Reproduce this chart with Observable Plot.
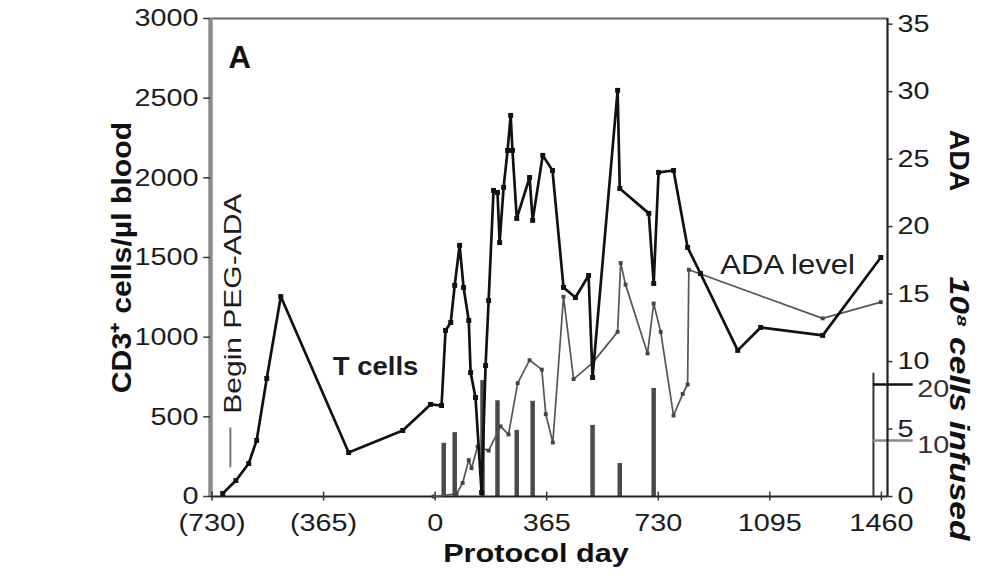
<!DOCTYPE html>
<html><head><meta charset="utf-8">
<script src="https://cdn.jsdelivr.net/npm/d3@7"></script>
<script src="https://cdn.jsdelivr.net/npm/@observablehq/plot@0.6"></script>
<style>body{margin:0;background:#fff}</style>
</head><body><div id="chart"></div>
<script>
// T cells (CD3+ cells/µl blood)
const tDays = [-695,-652,-610,-584,-551,-505,-283,-106,-15,21,34,51,64,80,93,110,116,132,152,165,175,191,204,211,224,237,247,253,267,309,319,352,384,420,459,502,515,597,604,699,715,731,780,826,868,990,1065,1268,1458];
const tCells = [19,100,207,352,741,1255,276,414,578,571,1042,1092,1325,1576,1312,1105,778,621,25,822,1230,1921,1908,1594,1940,2172,2392,2172,1745,2002,1733,2141,2046,1312,1249,1387,747,2549,1933,1777,1337,2034,2046,1563,1400,917,1061,1011,1500];
// ADA level (right axis)
const adaDays = [-5,70,90,110,119,139,175,214,240,270,309,349,362,385,420,453,515,597,607,623,695,715,738,780,810,826,830,1268,1458];
const adaLevel = [0,0.2,1.0,2.7,2.1,3.7,3.4,5.2,4.6,8.4,10.1,9.4,6.1,4.0,14.8,8.7,9.9,12.2,17.3,15.7,10.6,14.3,12.2,6.0,7.6,8.3,16.8,13.2,14.4];
// 10^8 cells infused (bars)
const barDays = [28,64,155,204,267,319,515,604,715];
const barCells = [9.5,11.4,20.7,17.1,11.8,17.0,12.7,5.9,19.3];
// axes
const xDomain = [-735,1480];
const yDomain = [0,3000];
const leftTicks = [0,500,1000,1500,2000,2500,3000];
const xTicks = [-730,-365,0,365,730,1095,1460];
const xTickLabels = ["(730)","(365)","0","365","730","1095","1460"];
const adaTicks = [0,5,10,15,20,25,30,35];
const cellTicks = [10,20];
const cellAxisTop = 22;
const cellAxisDay = 1434;
const adaToY = 84.7;   // 1 ADA unit in left-axis units
const cellToY = 35.15; // 1 unit of 10^8 cells in left-axis units
// annotations
const notes = [
  {label:"T cells", day:-195, value:810, rotate:0, weight:"bold", size:25},
  {label:"ADA level", day:1153, value:1450, rotate:0, weight:"normal", size:27},
  {label:"Begin PEG-ADA", day:-662, value:1210, rotate:-90, weight:"normal", size:24}
];
const pointer = [{day:-670, y1:180, y2:430}];

const tcells = tDays.map((d,i)=>({day:d, v:tCells[i]}));
const ada = adaDays.map((d,i)=>({day:d, v:adaLevel[i]*adaToY}));
const bars = barDays.map((d,i)=>({day:d, v:barCells[i]*cellToY}));

const ink = "#1c1c1c";
const fontFamily = "'Liberation Sans', Arial, Helvetica, sans-serif";

const svg = Plot.plot({
  width: 984, height: 577,
  marginLeft: 210, marginRight: 97, marginTop: 18, marginBottom: 81,
  x: {domain: xDomain, axis: null},
  y: {domain: yDomain, axis: null},
  style: {fontFamily, background: "#fff", color: ink},
  marks: [
    // bars of cells infused
    Plot.ruleX(bars, {x: "day", y1: 0, y2: "v", stroke: "#4a4a4a", strokeWidth: 4.5}),
    // third axis (10^8 cells infused)
    Plot.ruleX([cellAxisDay], {y1: 0, y2: cellAxisTop*cellToY, stroke: "#333", strokeWidth: 2}),
    Plot.ruleY(cellTicks.filter(d=>d===20), {y: d=>d*cellToY, x1: cellAxisDay, x2: cellAxisDay+130, stroke: "#111", strokeWidth: 2.5}),
    Plot.ruleY(cellTicks.filter(d=>d===10), {y: d=>d*cellToY, x1: cellAxisDay, x2: cellAxisDay+130, stroke: "#8a8a8a", strokeWidth: 2.5}),
    // frame
    Plot.ruleY([yDomain[1]], {stroke: "#666", strokeWidth: 2}),
    Plot.ruleY([yDomain[0]], {stroke: "#222", strokeWidth: 2}),
    Plot.ruleX([xDomain[0]], {stroke: "#8c8c8c", strokeWidth: 4.5}),
    Plot.ruleX([xDomain[1]], {stroke: "#222", strokeWidth: 2.2}),
    // left ticks
    Plot.ruleY(leftTicks, {x1: xDomain[0]-22, x2: xDomain[0], stroke: "#333", strokeWidth: 1.5}),
    Plot.text(leftTicks, {x: xDomain[0], y: d=>d, dx: -12, textAnchor: "end", fontSize: 24, text: d=>String(d), fill: ink}),
    // bottom ticks
    Plot.ruleX(xTicks, {y1: -28, y2: 28, stroke: "#333", strokeWidth: 1.5}),
    Plot.text(xTicks, {x: d=>d, y: 0, dy: 27, fontSize: 24, text: (d,i)=>xTickLabels[i], fill: ink}),
    // right ADA ticks
    Plot.ruleY(adaTicks, {y: d=>d*adaToY, x1: xDomain[1], x2: xDomain[1]+18, stroke: "#333", strokeWidth: 1.5}),
    Plot.text(adaTicks, {x: xDomain[1], y: d=>d*adaToY, dx: 10, textAnchor: "start", fontSize: 24, text: d=>String(d), fill: ink}),
    // cell ticks labels
    Plot.text(cellTicks, {x: cellAxisDay+130, y: d=>d*cellToY, dx: 4, dy: 5, textAnchor: "start", fontSize: 24, text: d=>String(d), fill: "#333"}),
    // ADA line
    Plot.line(ada, {x: "day", y: "v", stroke: "#555", strokeWidth: 1.7}),
    Plot.dot(ada, {x: "day", y: "v", symbol: "square", r: 2.2, fill: "#444"}),
    // T cells line
    Plot.line(tcells, {x: "day", y: "v", stroke: "#111", strokeWidth: 2.7}),
    Plot.dot(tcells, {x: "day", y: "v", symbol: "square", r: 2.8, fill: "#111"}),
    // annotations
    Plot.ruleX(pointer, {x: "day", y1: "y1", y2: "y2", stroke: "#777", strokeWidth: 2}),
    ...notes.map(n => Plot.text([n], {x: "day", y: "value", text: "label", rotate: n.rotate, textAnchor: "middle", fontSize: n.size, fontWeight: n.weight, fill: ink})),
    // titles
    Plot.text(["A"], {frameAnchor: "top-left", dx: 18, dy: 27, textAnchor: "start", fontSize: 31, fontWeight: "bold", fill: "#111"}),
    Plot.text(["CD3⁺ cells/µl blood"], {frameAnchor: "left", dx: -88, dy: 0, rotate: -90, textAnchor: "middle", fontSize: 27, fontWeight: "bold", fill: "#111"}),
    Plot.text(["Protocol day"], {frameAnchor: "bottom", dx: -13, dy: 65, textAnchor: "middle", fontSize: 26, fontWeight: "bold", fill: "#111"}),
    Plot.text(["ADA"], {frameAnchor: "right", dx: 71, dy: -97, rotate: 90, textAnchor: "middle", fontSize: 27, fontWeight: "bold", fill: "#111"}),
    Plot.text(["10⁸ cells infused"], {frameAnchor: "right", dx: 71, dy: 151, rotate: 90, textAnchor: "middle", fontSize: 28, fontWeight: "bold", fontStyle: "italic", fill: "#111"})
  ]
});

// widen glyphs to match the scanned lettering
const tickText = new Set([...leftTicks, ...adaTicks, ...cellTicks].map(String).concat(xTickLabels));
const stretch = {
  "T cells": 1.1, "ADA level": 1.15, "Begin PEG-ADA": 1.25,
  "CD3⁺ cells/µl blood": 1.12, "Protocol day": 1.18, "ADA": 1.05, "10⁸ cells infused": 1.2
};
svg.querySelectorAll("text").forEach(t => {
  const s = t.textContent;
  const k = tickText.has(s) ? 1.2 : stretch[s];
  if (k) t.setAttribute("transform", (t.getAttribute("transform") || "") + ` scale(${k},1)`);
});
document.getElementById("chart").appendChild(svg);
</script>
</body></html>
